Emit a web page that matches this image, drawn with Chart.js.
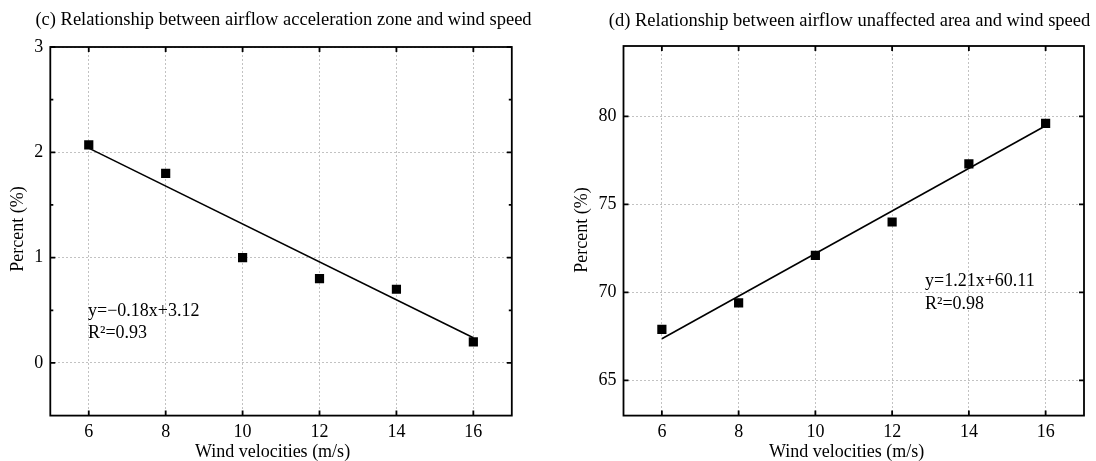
<!DOCTYPE html>
<html lang="en">
<head>
  <meta charset="UTF-8">
  <title>Airflow zones vs wind speed</title>
  <script src="https://cdn.jsdelivr.net/npm/chart.js"></script>
  <style>
    html, body { margin: 0; padding: 0; background: #fff; }
    .panel { position: absolute; top: 0; width: 548px; height: 461px; }
  </style>
</head>
<body>
  <div class="panel" style="left:0"><canvas id="accelChart" width="548" height="461"></canvas></div>
  <div class="panel" style="left:548px"><canvas id="unaffectedChart" width="548" height="461"></canvas></div>

  <script>
    // wind speed (m/s) and the share of each zone (%)
    const windSpeed = [6, 8, 10, 12, 14, 16];
    const accelZone = [2.07, 1.8, 1.0, 0.8, 0.7, 0.2];
    const unaffectedArea = [67.9, 69.4, 72.1, 74.0, 77.3, 79.6];

    const speedTicks = [6, 8, 10, 12, 14, 16];
    const accelTicks = [0, 1, 2, 3];
    const accelMinor = [0.5, 1.5, 2.5];
    const unaffectedTicks = [65, 70, 75, 80];

    // linear fits, [slope, intercept]
    const accelFit = [-0.18, 3.12];
    const unaffectedFit = [1.21, 60.11];

    const SERIF = '"Liberation Serif", "Times New Roman", serif';

    // box frame, inward tick marks and the text around each panel
    const panelDecor = {
      id: 'panelDecor',
      afterDatasetsDraw(chart, args, o) {
        const { ctx, chartArea: a, scales: { x, y } } = chart;
        ctx.save();
        ctx.strokeStyle = '#000';
        ctx.lineWidth = 1.8;
        ctx.strokeRect(a.left, a.top, a.right - a.left, a.bottom - a.top);

        ctx.beginPath();
        o.xMajor.forEach(v => {
          const px = x.getPixelForValue(v);
          ctx.moveTo(px, a.bottom); ctx.lineTo(px, a.bottom - 5);
          ctx.moveTo(px, a.top); ctx.lineTo(px, a.top + 5);
        });
        const yTick = (v, len) => {
          const py = y.getPixelForValue(v);
          ctx.moveTo(a.left, py); ctx.lineTo(a.left + len, py);
          ctx.moveTo(a.right, py); ctx.lineTo(a.right - len, py);
        };
        o.yMajor.forEach(v => yTick(v, 5));
        (o.yMinor || []).forEach(v => yTick(v, 3));
        ctx.stroke();

        ctx.fillStyle = '#000';
        ctx.textBaseline = 'middle';
        ctx.font = `18.5px ${SERIF}`;
        ctx.textAlign = 'center';
        ctx.fillText(o.title, o.titlePos[0], o.titlePos[1]);

        ctx.font = `18px ${SERIF}`;
        ctx.fillText('Wind velocities (m/s)', o.xLabelPos[0], o.xLabelPos[1]);

        ctx.save();
        ctx.translate(o.yLabelPos[0], o.yLabelPos[1]);
        ctx.rotate(-Math.PI / 2);
        ctx.fillText('Percent (%)', 0, 0);
        ctx.restore();

        ctx.textAlign = 'left';
        o.notes.forEach(n => ctx.fillText(n.text, n.x, n.y));
        ctx.restore();
      }
    };

    function makePanel(canvasId, cfg) {
      const fitLine = [6, 16].map(v => ({ x: v, y: cfg.fit[0] * v + cfg.fit[1] }));
      return new Chart(document.getElementById(canvasId), {
        type: 'scatter',
        data: {
          datasets: [
            {
              data: windSpeed.map((v, i) => ({ x: v, y: cfg.values[i] })),
              pointStyle: 'rect',
              pointRadius: 6.5,
              backgroundColor: '#000',
              borderWidth: 0
            },
            {
              data: fitLine,
              showLine: true,
              pointRadius: 0,
              borderColor: '#000',
              borderWidth: 1.6
            }
          ]
        },
        options: {
          responsive: false,
          animation: false,
          layout: { padding: { left: 0, right: cfg.padRight, top: cfg.padTop, bottom: 0 } },
          plugins: {
            legend: { display: false },
            tooltip: { enabled: false },
            panelDecor: cfg.decor
          },
          scales: {
            x: {
              type: 'linear',
              min: 5,
              max: 17,
              afterBuildTicks: s => { s.ticks = speedTicks.map(v => ({ value: v })); },
              afterFit: s => { s.height = 45.4; },
              grid: { color: '#c2c2c2', lineWidth: 1, drawTicks: false },
              border: { display: false, dash: [2, 2] },
              ticks: { color: '#000', font: { family: SERIF, size: 18 }, padding: 6, maxRotation: 0 }
            },
            y: {
              type: 'linear',
              min: cfg.yMin,
              max: cfg.yMax,
              afterBuildTicks: s => { s.ticks = cfg.yTicks.map(v => ({ value: v })); },
              afterFit: s => { s.width = cfg.yWidth; },
              grid: { color: '#c2c2c2', lineWidth: 1, drawTicks: false },
              border: { display: false, dash: [2, 2] },
              ticks: { color: '#000', font: { family: SERIF, size: 18 }, padding: 7 }
            }
          }
        },
        plugins: [panelDecor]
      });
    }

    makePanel('accelChart', {
      values: accelZone,
      fit: accelFit,
      yMin: -0.5,
      yMax: 3,
      yTicks: accelTicks,
      yWidth: 50.3,
      padRight: 36.2,
      padTop: 47,
      decor: {
        xMajor: speedTicks,
        yMajor: accelTicks,
        yMinor: accelMinor,
        title: '(c) Relationship between airflow acceleration zone and wind speed',
        titlePos: [283.5, 20],
        xLabelPos: [272.5, 452],
        yLabelPos: [18.3, 229],
        notes: [
          { text: 'y=\u22120.18x+3.12', x: 88, y: 311 },
          { text: 'R\u00b2=0.93', x: 88, y: 333 }
        ]
      }
    });

    makePanel('unaffectedChart', {
      values: unaffectedArea,
      fit: unaffectedFit,
      yMin: 63,
      yMax: 84,
      yTicks: unaffectedTicks,
      yWidth: 75.5,
      padRight: 12,
      padTop: 46,
      decor: {
        xMajor: speedTicks,
        yMajor: unaffectedTicks,
        title: '(d) Relationship between airflow unaffected area and wind speed',
        titlePos: [301.5, 21],
        xLabelPos: [298.7, 452],
        yLabelPos: [34.7, 230],
        notes: [
          { text: 'y=1.21x+60.11', x: 377, y: 281 },
          { text: 'R\u00b2=0.98', x: 377, y: 304.5 }
        ]
      }
    });
  </script>
</body>
</html>
